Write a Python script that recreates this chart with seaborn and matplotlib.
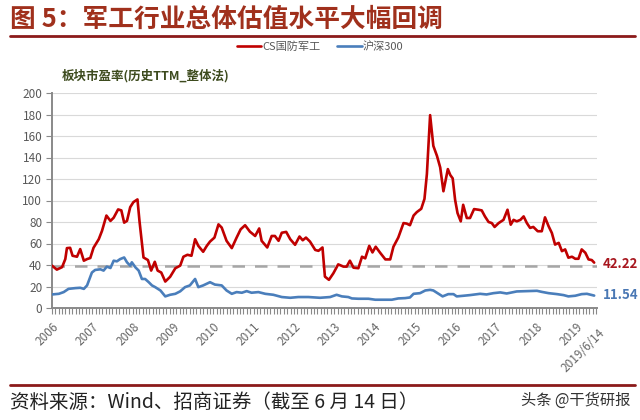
import numpy as np
import pandas as pd
import matplotlib
matplotlib.use("Agg")
import matplotlib.pyplot as plt
import matplotlib.ticker as mticker
import seaborn as sns

# CS国防军工 PE (decimal year, value)
red_t = [2006.00, 2006.12, 2006.25, 2006.33, 2006.37, 2006.45, 2006.51, 2006.62, 2006.70, 2006.79,
         2006.87, 2006.95, 2007.03, 2007.16, 2007.24, 2007.35, 2007.45, 2007.53, 2007.64, 2007.72,
         2007.79, 2007.86, 2007.94, 2008.02, 2008.12, 2008.17, 2008.27, 2008.38, 2008.46, 2008.55,
         2008.62, 2008.71, 2008.81, 2008.93, 2009.06, 2009.18,
         2009.26, 2009.36, 2009.46, 2009.55, 2009.63, 2009.75, 2009.84, 2009.92, 2010.03, 2010.13,
         2010.21, 2010.33, 2010.46, 2010.58, 2010.68, 2010.79, 2010.91, 2011.04, 2011.14, 2011.20,
         2011.34, 2011.45, 2011.53, 2011.62, 2011.70, 2011.81, 2011.91, 2012.03, 2012.14, 2012.22,
         2012.30, 2012.40, 2012.53,
         2012.61, 2012.71, 2012.77, 2012.87, 2012.98, 2013.10, 2013.23, 2013.31, 2013.39, 2013.48,
         2013.60, 2013.69, 2013.77, 2013.87, 2013.95, 2014.03, 2014.14, 2014.27, 2014.39, 2014.47,
         2014.59, 2014.72, 2014.80, 2014.88, 2014.97, 2015.05, 2015.16, 2015.24, 2015.30, 2015.38,
         2015.46, 2015.55, 2015.63, 2015.71, 2015.82,
         2015.88, 2015.94, 2016.00, 2016.06, 2016.14, 2016.20, 2016.29, 2016.37, 2016.47, 2016.58,
         2016.66, 2016.74, 2016.83, 2016.91, 2016.98, 2017.08, 2017.20, 2017.30, 2017.38, 2017.45,
         2017.53, 2017.62, 2017.70, 2017.78, 2017.86, 2017.94, 2018.05, 2018.15, 2018.23, 2018.32,
         2018.40, 2018.48, 2018.57, 2018.65, 2018.73, 2018.81, 2018.90, 2018.98, 2019.06, 2019.14,
         2019.23, 2019.31, 2019.39, 2019.45]
red_v = [39.4, 35.7, 38, 45.5, 55.7, 56, 48.6, 47.7, 54.8, 44,
         45.5, 46.5, 56, 64, 71.7, 86, 81, 84, 91.7, 90.8,
         79.4, 81, 93.8, 98.5, 101, 81, 47, 44.6, 34.8, 43,
         34.8, 33, 24.6, 29, 37, 39.4,
         47.7, 49.5, 48.6, 64, 57.8, 52.3, 57.8, 61.8, 65.5, 77.8,
         74.8, 62.5, 55.7, 65.5, 73.2, 77, 71, 67, 74, 62.5,
         56.3, 67, 67, 62.5, 70, 70.8, 64, 58.8, 66.5, 63,
         65.5, 61.8, 54,
         53.2, 56.3, 29.2, 26.2, 32.3, 40.6, 38.5, 38.5, 44, 37.5,
         37, 47.7, 46.2, 57.8, 51.7, 57, 51.4, 45.2, 45.2, 57,
         65.5, 79, 78.5, 77, 86, 89.2, 92.3, 101.5, 124.6, 179.4,
         150.8, 141.5, 130.8, 108.6, 129.2,
         123.7, 120.6, 100.6, 88.3, 80.6, 96, 83.7, 83.7, 92, 91.4,
         90.8, 85.2, 80, 79, 75.4, 79, 82, 91.4, 77.5, 82,
         80.6, 82, 85.2, 79, 74.5, 75.4, 71.4, 71.4, 84.3, 76,
         69.8, 59, 60.6, 52.9, 54.5, 46.8, 47.7, 45.8, 45.8, 54.5,
         51.4, 45.2, 44.6, 42.22]

# 沪深300 PE
blue_t = [2006.00, 2006.17, 2006.29, 2006.41, 2006.58, 2006.70, 2006.79, 2006.87, 2006.99, 2007.07,
          2007.20, 2007.28, 2007.36, 2007.45, 2007.53, 2007.61, 2007.69, 2007.79, 2007.86, 2007.94,
          2007.98, 2008.07, 2008.15, 2008.23, 2008.31, 2008.40, 2008.48, 2008.56, 2008.69, 2008.81,
          2008.93, 2009.06, 2009.18,
          2009.30, 2009.42, 2009.55, 2009.63, 2009.75, 2009.92, 2010.04, 2010.21, 2010.33, 2010.46,
          2010.58, 2010.71, 2010.83, 2010.95, 2011.12, 2011.29, 2011.49, 2011.70, 2011.91, 2012.11,
          2012.36, 2012.65,
          2012.90, 2013.06, 2013.19, 2013.35, 2013.44, 2013.60, 2013.85, 2014.02, 2014.43, 2014.59,
          2014.76, 2014.88, 2014.97, 2015.13, 2015.26, 2015.38, 2015.46, 2015.59, 2015.69, 2015.83,
          2015.96, 2016.04, 2016.21, 2016.37, 2016.62, 2016.78, 2016.95, 2017.12, 2017.28, 2017.53,
          2017.78, 2018.03, 2018.15, 2018.32, 2018.53, 2018.69, 2018.81, 2018.98, 2019.14, 2019.27,
          2019.45]
blue_v = [12.6, 13.2, 14.8, 17.8, 18.5, 18.8, 17.8, 21, 33, 35.4,
          36, 34.8, 38.5, 37.2, 44, 43.4, 45.5, 47, 42.5, 39.4,
          42.5, 37.8, 34.8, 27, 27, 24, 21, 19.4, 16.3, 10.8,
          12.3, 13.2, 15.5,
          19.4, 21, 27, 19.4, 21, 24, 21.8, 21, 16.3, 13.2,
          14.8, 14.2, 15.7, 14.2, 14.8, 13.2, 12.3, 10.2, 9.5, 10.2,
          10.2, 9.5,
          10.2, 12.3, 10.8, 10.2, 8.9, 8.6, 8.6, 7.7, 7.7, 8.9,
          9.2, 9.8, 13.2, 13.8, 16.3, 16.9, 16.3, 13.2, 10.8, 12.9,
          12.9, 10.8, 11.4, 12, 13.2, 12.6, 13.8, 14.5, 13.5, 15.4,
          15.7, 16, 15, 13.8, 12.9, 12, 10.8, 11.4, 12.9, 13.2,
          11.54]

years = list(range(2006, 2020))
year_labels = [str(y) for y in years]
avg_level = 39.5

red_df = pd.DataFrame({"t": red_t, "pe": red_v})
blue_df = pd.DataFrame({"t": blue_t, "pe": blue_v})

sns.set_style("white")
plt.rcParams['font.family'] = ['Noto Sans CJK SC', 'DejaVu Sans']

RED = "#C00000"
BLUE = "#4A7EBB"
GREY = "#595959"

fig = plt.figure(figsize=(6.4, 4.2), dpi=100)
ax = fig.add_axes([52 / 640, 1 - 308 / 420, 545 / 640, 215 / 420])

ax.axhline(avg_level, color="#A6A6A6", lw=1.8, dashes=(5, 4), zorder=1)
sns.lineplot(data=red_df, x="t", y="pe", ax=ax, color=RED, lw=1.9, sort=False,
             label="CS国防军工", zorder=3)
sns.lineplot(data=blue_df, x="t", y="pe", ax=ax, color=BLUE, lw=1.9, sort=False,
             label="沪深300", zorder=3)

ax.set_xlim(2006, 2019.52)
ax.set_ylim(0, 200)
ax.set_yticks(range(0, 201, 20))
ax.set_xticks(years)
ax.set_xticklabels(year_labels, rotation=45, ha="right", rotation_mode="anchor")
ax.xaxis.set_minor_locator(mticker.MultipleLocator(1 / 12))
ax.set_xlabel("")
ax.set_ylabel("")
ax.grid(axis="y", color="#D9D9D9", lw=0.8)
ax.set_axisbelow(True)
for s in ["top", "right"]:
    ax.spines[s].set_visible(False)
for s in ["left", "bottom"]:
    ax.spines[s].set_color("#898989")
    ax.spines[s].set_linewidth(1.4)
ax.tick_params(axis="y", which="both", left=True, length=4, color="#898989",
               labelsize=8.5, labelcolor=GREY, pad=3)
ax.tick_params(axis="x", which="both", bottom=True, direction="out", length=4,
               width=0.8, color="#898989", labelsize=8.5, labelcolor="#666666", pad=5)
ax.text(2019.55, -17, "2019/6/14", rotation=45, ha="right", va="top",
        rotation_mode="anchor", fontsize=8.5, color="#666666", clip_on=False)

ax.text(1.01, red_v[-1] - 1, f"{red_v[-1]:.2f}", transform=ax.get_yaxis_transform(),
        color="#A8171F", fontsize=9.5, fontweight="bold", va="center", ha="left")
ax.text(1.01, blue_v[-1] + 1, f"{blue_v[-1]:.2f}", transform=ax.get_yaxis_transform(),
        color="#4A78B4", fontsize=9.5, fontweight="bold", va="center", ha="left")

handles, labels = ax.get_legend_handles_labels()
ax.get_legend().remove()
leg = fig.legend(handles, labels, loc="center", bbox_to_anchor=(0.5, 1 - 47 / 420),
                 ncol=2, frameon=False, fontsize=8, handlelength=2.2,
                 handletextpad=0.1, columnspacing=1.5)
for txt in leg.get_texts():
    txt.set_color(GREY)

fig.text(62 / 640, 1 - 76 / 420, "板块市盈率(历史TTM_整体法)", fontsize=9,
         fontweight="bold", color="#3D4B1E", va="center", ha="left")

fig.text(10 / 640, 1 - 19 / 420, "图 5：军工行业总体估值水平大幅回调", fontsize=18.5,
         fontweight="bold", color="#A0301C", va="center", ha="left")
fig.add_artist(plt.Line2D([10 / 640, 635 / 640], [1 - 36 / 420, 1 - 36 / 420],
                          color="#8B1A1A", lw=2))
fig.add_artist(plt.Line2D([10 / 640, 635 / 640], [1 - 385 / 420, 1 - 385 / 420],
                          color="#8B1A1A", lw=2))
fig.text(10 / 640, 1 - 402 / 420, "资料来源：Wind、招商证券（截至 6 月 14 日）",
         fontsize=14, color="#222222", va="center", ha="left")
fig.text(630 / 640, 1 - 400 / 420, "头条 @干货研报", fontsize=11,
         color="#333333", va="center", ha="right")

fig.savefig("out.png", dpi=100)
